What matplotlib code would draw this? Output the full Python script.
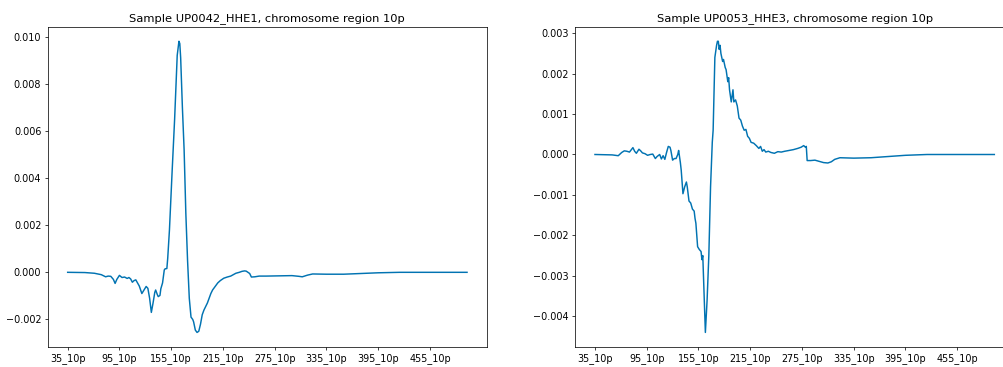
import matplotlib
matplotlib.use("Agg")
import matplotlib.pyplot as plt

# bin labels shown on the x axis (one tick every 60 bins, first bin = 35_10p)
tick_pos = [0, 60, 120, 180, 240, 300, 360, 420]
tick_labels = ["35_10p", "95_10p", "155_10p", "215_10p",
               "275_10p", "335_10p", "395_10p", "455_10p"]
n_bins = 464

# sample UP0042_HHE1 (bin index, value)
left_pos = [0, 20, 31, 39, 44, 47, 50, 53, 55, 57, 60, 63, 66, 69, 71, 73, 75, 77,
            79, 81, 83, 86, 88, 91, 93, 95, 97, 99, 101, 102, 104, 105, 107, 108,
            110, 112, 113, 115, 116, 118, 121, 124, 127, 129, 130, 131, 133, 135,
            137, 139, 141, 143, 145, 146, 148, 150, 152, 154, 156, 158, 160, 162,
            164, 166, 168, 171, 174, 177, 181, 185, 189, 192, 195, 199, 202, 205,
            207, 209, 211, 213, 217, 222, 230, 245, 260, 268, 272, 278, 284, 300,
            320, 340, 360, 385, 463]
left_vals = [0.0, -0.00001, -0.00004, -0.0001, -0.00019, -0.00016, -0.00017,
             -0.0003, -0.00047, -0.0003, -0.00013, -0.00022, -0.0002, -0.00026,
             -0.00022, -0.00028, -0.00042, -0.00035, -0.00032, -0.00045, -0.00058,
             -0.0009, -0.00078, -0.0006, -0.00068, -0.0011, -0.0017, -0.0013,
             -0.00085, -0.00075, -0.00095, -0.00103, -0.00098, -0.0007, -0.00045,
             0.0001, 0.00015, 0.00016, 0.0006, 0.0018, 0.0042, 0.0065, 0.0092,
             0.0098, 0.0097, 0.0091, 0.0070, 0.0052, 0.0025, 0.0005, -0.0011,
             -0.0019, -0.0020, -0.0021, -0.00245, -0.00255, -0.0025, -0.0022,
             -0.0018, -0.0016, -0.00145, -0.0013, -0.0011, -0.0009, -0.00075,
             -0.0006, -0.00045, -0.00035, -0.00025, -0.0002, -0.00016, -0.0001,
             -0.00004, 0.0, 0.00004, 0.00006, 0.00005, 0.0, -0.00005, -0.0002,
             -0.00019, -0.00016, -0.00016, -0.00015, -0.00014, -0.00017, -0.00019,
             -0.00012, -0.00007, -0.00008, -0.00008, -0.00005, -0.00002, 0.0, 0.0]

# sample UP0053_HHE3
right_pos = [0, 20, 27, 31, 34, 37, 40, 44, 46, 48, 51, 53, 55, 58, 61, 64, 67,
             70, 72, 75, 77, 79, 81, 83, 85, 87, 88, 90, 92, 94, 96, 97, 99, 100,
             102, 104, 106, 107, 109, 111, 113, 115, 116, 117, 119, 121, 123, 124,
             125, 128, 130, 132, 134, 136, 137, 139, 141, 142, 143, 144, 145, 146,
             148, 149, 151, 152, 154, 155, 156, 158, 160, 161, 163, 165, 167, 169,
             171, 173, 175, 177, 179, 181, 184, 187, 190, 192, 194, 196, 198, 201,
             204, 208, 212, 216, 220, 225, 230, 235, 239, 242, 244, 245, 246, 250,
             255, 260, 265, 270, 274, 278, 284, 300, 320, 340, 360, 385, 463]
right_vals = [0.0, -0.00001, -0.00003, 0.00005, 0.00009, 0.00008, 0.00006,
              0.00017, 0.00008, 0.00003, 0.00013, 0.00009, 0.00004, 0.00002,
              -0.00002, 0.0, 0.00001, -0.0001, -0.00005, 0.0, -0.00011, -0.00003,
              -0.00012, 0.00005, 0.0002, 0.00018, 0.0001, -0.00014, -0.0001,
              -0.0001, 0.0, 0.0001, -0.0002, -0.00039, -0.00097, -0.0008, -0.00068,
              -0.0008, -0.00115, -0.0012, -0.00135, -0.0014, -0.00158, -0.0017,
              -0.00228, -0.00235, -0.0024, -0.0026, -0.0025, -0.0044, -0.0036,
              -0.0025, -0.0008, 0.0003, 0.0006, 0.0024, 0.0027, 0.0028, 0.0028,
              0.0026, 0.0027, 0.0025, 0.0023, 0.00235, 0.00215, 0.0021, 0.0018,
              0.0019, 0.0016, 0.0013, 0.0016, 0.0013, 0.00135, 0.0012, 0.0009,
              0.00085, 0.0007, 0.0006, 0.00062, 0.00045, 0.0004, 0.0003, 0.00028,
              0.00022, 0.00015, 0.0002, 0.00008, 0.00012, 0.00006, 0.00008, 0.00005,
              0.00003, 0.00007, 0.00006, 0.00008, 0.0001, 0.00012, 0.00015, 0.00018,
              0.00022, 0.00018, 0.0002, -0.00015, -0.00015, -0.00014, -0.00017,
              -0.0002, -0.00021, -0.00018, -0.00012, -0.00008, -0.00009, -0.00008,
              -0.00005, -0.00002, 0.0, 0.0]

samples = ["UP0042_HHE1", "UP0053_HHE3"]
color = "#0173b2"

fig = plt.figure(figsize=(1003 / 66, 367 / 66), dpi=66)
ax1 = fig.add_axes([47.7 / 1003, 20 / 367, 439.3 / 1003, 320.3 / 367])
ax2 = fig.add_axes([575 / 1003, 20 / 367, 439.3 / 1003, 320.3 / 367])

for ax, pos, vals, name in [(ax1, left_pos, left_vals, samples[0]),
                            (ax2, right_pos, right_vals, samples[1])]:
    ax.plot(pos, vals, color=color, linewidth=1.6)
    ax.set_xlim(-0.05 * (n_bins - 1), (n_bins - 1) * 1.05)
    ax.set_xticks(tick_pos)
    ax.set_xticklabels(tick_labels)
    ax.tick_params(labelsize=10.5)
    ax.set_title(f"Sample {name}, chromosome region 10p", fontsize=12.5)

fig.savefig("out.png", dpi=66)
